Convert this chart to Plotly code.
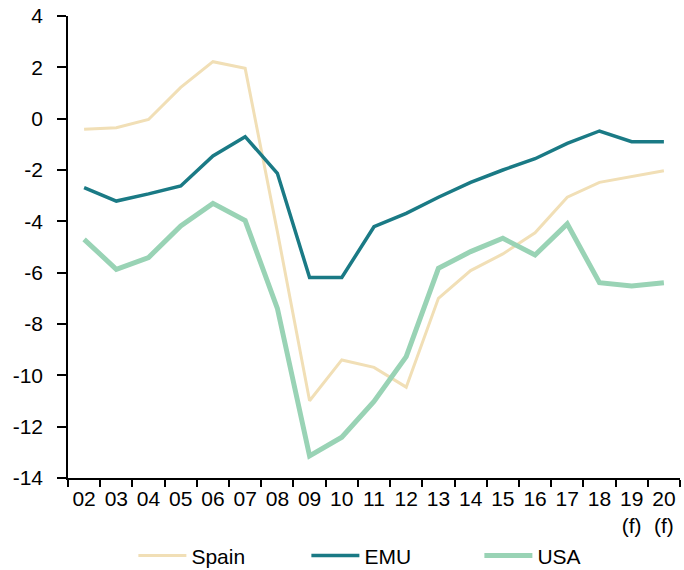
import plotly.graph_objects as go

years = ["02", "03", "04", "05", "06", "07", "08", "09", "10", "11",
         "12", "13", "14", "15", "16", "17", "18", "19<br>(f)", "20<br>(f)"]

spain = [-0.41, -0.35, -0.03, 1.22, 2.22, 1.96, -4.4, -10.99, -9.4, -9.69,
         -10.46, -7.0, -5.92, -5.27, -4.45, -3.06, -2.48, -2.26, -2.03]
emu = [-2.69, -3.21, -2.93, -2.62, -1.45, -0.70, -2.13, -6.19, -6.19, -4.21,
       -3.69, -3.06, -2.48, -2.0, -1.56, -0.96, -0.48, -0.90, -0.90]
usa = [-4.70, -5.87, -5.41, -4.18, -3.30, -3.97, -7.39, -13.14, -12.41, -11.02,
       -9.27, -5.83, -5.18, -4.66, -5.31, -4.10, -6.39, -6.52, -6.39]

y_ticks = [4, 2, 0, -2, -4, -6, -8, -10, -12, -14]

fig = go.Figure()
fig.add_trace(go.Scatter(x=years, y=spain, name="Spain", mode="lines",
                         line=dict(color="#F1DFB6", width=3)))
fig.add_trace(go.Scatter(x=years, y=emu, name="EMU", mode="lines",
                         line=dict(color="#1A7A85", width=3.5)))
fig.add_trace(go.Scatter(x=years, y=usa, name="USA", mode="lines",
                         line=dict(color="#99D3B5", width=5)))

fig.update_layout(
    width=684,
    height=570,
    margin=dict(l=68, r=4, t=16, b=92),
    plot_bgcolor="white",
    paper_bgcolor="white",
    font=dict(family="Liberation Sans, Arial, sans-serif", size=21, color="black"),
    legend=dict(orientation="h", xref="container", yref="container",
                x=0.195, xanchor="left", y=0.025, yanchor="middle",
                bgcolor="rgba(0,0,0,0)",
                font=dict(size=21), itemwidth=48, entrywidth=110),
)

fig.update_xaxes(
    type="category",
    range=[-0.5, 18.5],
    automargin=False,
    tickangle=0,
    showline=True, linecolor="black", linewidth=1.5,
    ticks="outside", ticklen=7, tickwidth=1.5, tickcolor="black",
    tickson="boundaries", ticklabelstandoff=1,
    showgrid=False, zeroline=False,
)
fig.update_yaxes(
    range=[-14, 4],
    automargin=False,
    tickvals=y_ticks,
    ticktext=[str(v) for v in y_ticks],
    ticklabeloverflow="allow",
    showline=True, linecolor="black", linewidth=1.5,
    ticks="outside", ticklen=9, tickwidth=1.5, tickcolor="black",
    ticklabelstandoff=10,
    showgrid=False, zeroline=False,
)

# drop the default body margin so the figure sits at the page corner
fig.write_html("out.html", config={"displayModeBar": False},
               post_script="document.body.style.margin='0';document.body.style.overflow='hidden';")
